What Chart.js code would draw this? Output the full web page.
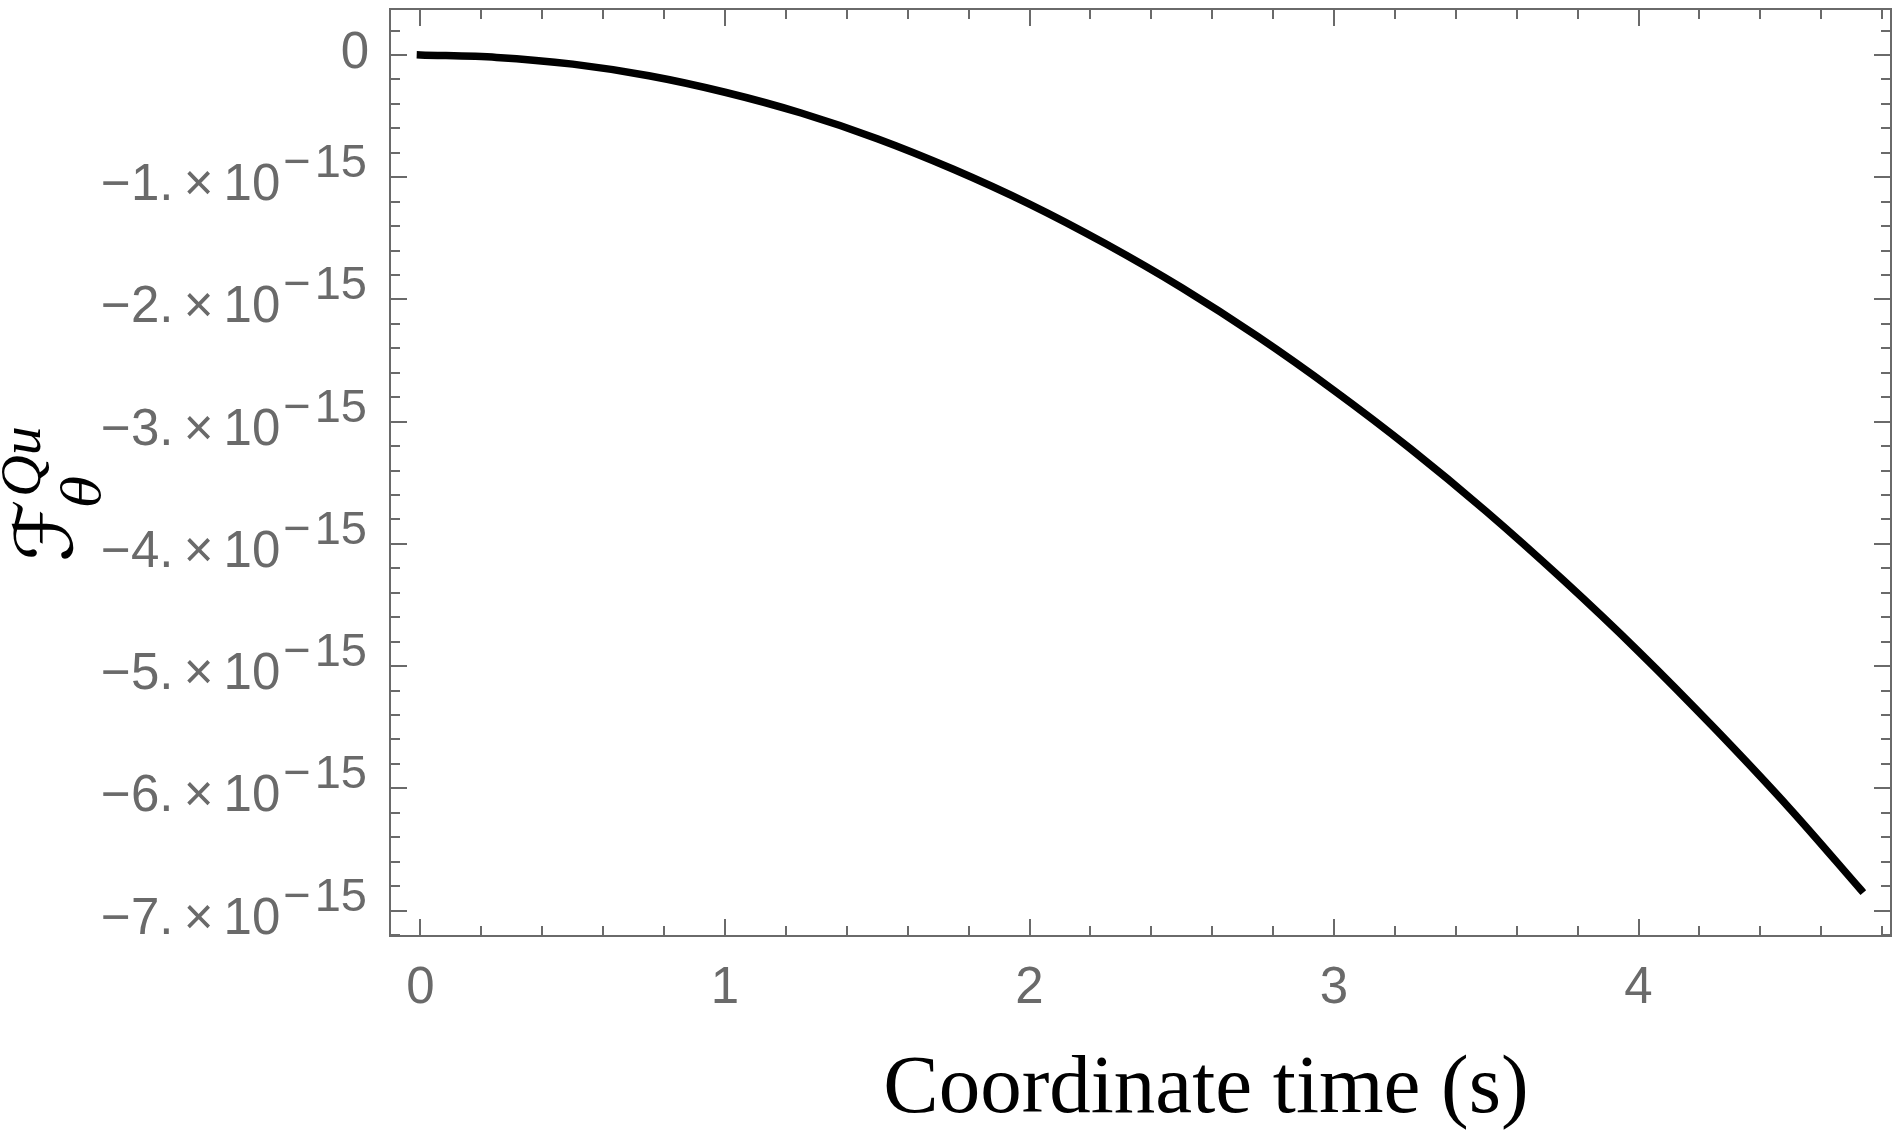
<!DOCTYPE html>
<html><head><meta charset="utf-8">
<script src="https://cdn.jsdelivr.net/npm/chart.js@4/dist/chart.umd.min.js"></script>
<style>html,body{margin:0;padding:0;background:#fff;overflow:hidden}</style>
</head><body>
<canvas id="c" width="1898" height="1134" style="width:1898px;height:1134px;display:block"></canvas>
<script>
// ---- data ----
const timeValues = [0, 0.25, 0.5, 0.75, 1.0, 1.25, 1.5, 1.75, 2.0, 2.25, 2.5, 2.75, 3.0, 3.25, 3.5, 3.75, 4.0, 4.25, 4.5, 4.73];
const forceValues = [0, -0.02e-15, -0.075e-15, -0.17e-15, -0.305e-15, -0.475e-15, -0.685e-15, -0.935e-15, -1.22e-15, -1.545e-15,
  -1.905e-15, -2.305e-15, -2.745e-15, -3.22e-15, -3.735e-15, -4.29e-15, -4.88e-15, -5.51e-15, -6.175e-15, -6.83e-15];
const xTickValues = [0, 1, 2, 3, 4];
const xTickLabels = ['0', '1', '2', '3', '4'];
const yTickValues = [0, -1e-15, -2e-15, -3e-15, -4e-15, -5e-15, -6e-15, -7e-15];
const yTickMantissas = ['0', '\u22121.\u2009\u00d7\u200910', '\u22122.\u2009\u00d7\u200910', '\u22123.\u2009\u00d7\u200910', '\u22124.\u2009\u00d7\u200910', '\u22125.\u2009\u00d7\u200910', '\u22126.\u2009\u00d7\u200910', '\u22127.\u2009\u00d7\u200910'];
const yTickExponents = ['', '\u2212\u200a15', '\u2212\u200a15', '\u2212\u200a15', '\u2212\u200a15', '\u2212\u200a15', '\u2212\u200a15', '\u2212\u200a15'];
const xTitle = 'Coordinate time (s)';
const yTitleMain = '\u2131';
const yTitleSub = '\u03b8';
const yTitleSup = 'Qu';

const X_MIN = -0.1, X_MAX = 4.829, Y_MIN = -7.208e-15, Y_MAX = 0.376e-15;
const X_MINOR = 0.2, Y_MINOR = 0.2e-15;

const points = timeValues.map((t, i) => ({x: t, y: forceValues[i]}));
const GRAY = '#6a6a6a';

const framePlugin = {
  id: 'mmaFrame',
  beforeDatasetsDraw(chart) {
    const {ctx, chartArea: a, scales: {x, y}} = chart;
    ctx.save();
    ctx.strokeStyle = GRAY;
    ctx.lineWidth = 2;
    ctx.beginPath();
    const nx0 = Math.ceil(X_MIN / X_MINOR), nx1 = Math.floor(X_MAX / X_MINOR);
    for (let k = nx0; k <= nx1; k++) {
      const v = k * X_MINOR;
      const major = k % 5 === 0;
      const len = major ? 17 : 10;
      const px = Math.round(x.getPixelForValue(v));
      ctx.moveTo(px, a.bottom); ctx.lineTo(px, a.bottom - len);
      ctx.moveTo(px, a.top); ctx.lineTo(px, a.top + len);
    }
    const ny0 = Math.ceil(Y_MIN / Y_MINOR - 1e-9), ny1 = Math.floor(Y_MAX / Y_MINOR + 1e-9);
    for (let k = ny0; k <= ny1; k++) {
      const major = k % 5 === 0;
      const len = major ? 17 : 10;
      const py = Math.round(y.getPixelForValue(k * Y_MINOR));
      ctx.moveTo(a.left, py); ctx.lineTo(a.left + len, py);
      ctx.moveTo(a.right, py); ctx.lineTo(a.right - len, py);
    }
    ctx.stroke();
    ctx.strokeRect(a.left, a.top, a.right - a.left, a.bottom - a.top);
    ctx.restore();
  },
  afterDraw(chart) {
    const {ctx, chartArea: a, scales: {x, y}} = chart;
    ctx.save();
    ctx.fillStyle = GRAY;
    ctx.font = '51px "Liberation Sans", Arial, sans-serif';
    ctx.textAlign = 'center';
    ctx.textBaseline = 'alphabetic';
    xTickValues.forEach((v, i) => {
      ctx.fillText(xTickLabels[i], x.getPixelForValue(v), a.bottom + 67);
    });
    const right = 367;
    yTickValues.forEach((v, i) => {
      const py = y.getPixelForValue(v);
      ctx.textAlign = 'right';
      if (yTickExponents[i]) {
        ctx.font = '47px "Liberation Sans", Arial, sans-serif';
        const w = ctx.measureText(yTickExponents[i]).width;
        ctx.fillText(yTickExponents[i], right, py);
        ctx.font = '51px "Liberation Sans", Arial, sans-serif';
        ctx.fillText(yTickMantissas[i], right - w - 3, py + 23);
      } else {
        ctx.font = '51px "Liberation Sans", Arial, sans-serif';
        ctx.fillText(yTickMantissas[i], right + 2, py + 13);
      }
    });
    ctx.fillStyle = '#000';
    ctx.textAlign = 'center';
    ctx.font = '83px "Liberation Serif", "DejaVu Serif", serif';
    ctx.fillText(xTitle, 1206, 1112);
    // y title (rotated)
    ctx.translate(72, 562);
    ctx.rotate(-Math.PI / 2);
    ctx.textAlign = 'left';
    ctx.font = '80px "DejaVu Serif", "DejaVu Sans", serif';
    ctx.fillText(yTitleMain, 0, 0);
    const w0 = ctx.measureText(yTitleMain).width;
    ctx.font = 'italic 52px "DejaVu Serif", serif';
    ctx.fillText(yTitleSub, w0 - 8, 28);
    ctx.font = 'italic 58px "Liberation Serif", "DejaVu Serif", serif';
    ctx.fillText(yTitleSup, w0 + 2, -32);
    ctx.restore();
  }
};

new Chart(document.getElementById('c'), {
  type: 'line',
  data: {datasets: [{
    data: points,
    borderColor: '#000',
    borderWidth: 7.5,
    borderCapStyle: 'square',
    pointRadius: 0,
    fill: false,
    cubicInterpolationMode: 'monotone'
  }]},
  options: {
    responsive: false,
    animation: false,
    devicePixelRatio: 1,
    layout: {padding: {left: 390, right: 7, top: 9, bottom: 198}},
    plugins: {legend: {display: false}, tooltip: {enabled: false}, title: {display: false}},
    scales: {
      x: {type: 'linear', min: X_MIN, max: X_MAX, display: false},
      y: {type: 'linear', min: Y_MIN, max: Y_MAX, display: false}
    }
  },
  plugins: [framePlugin]
});
</script>
</body></html>
